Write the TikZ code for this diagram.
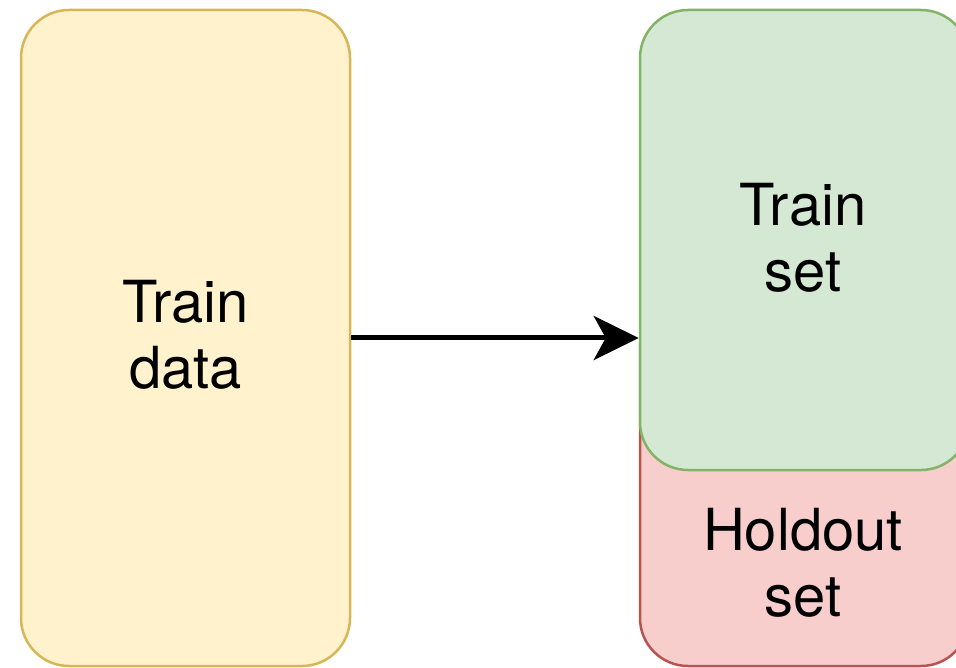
\documentclass[tikz,border=0pt]{standalone}
\usepackage{fontspec}
\setmainfont{TeX Gyre Heros}
\usetikzlibrary{arrows.meta}
\definecolor{yfill}{HTML}{FFF2CC}\definecolor{ydraw}{HTML}{D6B656}
\definecolor{gfill}{HTML}{D5E8D4}\definecolor{gdraw}{HTML}{82B366}
\definecolor{rfill}{HTML}{F8CECC}\definecolor{rdraw}{HTML}{B85450}
\tikzset{
  boxstyle/.style={rectangle, rounded corners=48pt, line width=2.5pt, minimum width=329pt, inner sep=0pt},
  lbl/.style={align=center, font=\fontsize{58}{66}\selectfont, text=black},
  conn/.style={line width=5pt, -{Stealth[length=45pt, width=44pt, inset=12pt]}}
}
\begin{document}
\begin{tikzpicture}[x=1pt,y=1pt]
\useasboundingbox (0,0) rectangle (956,-668);
\node[boxstyle, fill=yfill, draw=ydraw, minimum height=656pt] (yellow) at (185.5,-338) {};
\node[lbl] (traindata) at (185.5,-335) {Train\\data};
\node[boxstyle, fill=rfill, draw=rdraw, minimum height=366pt] (red) at (804.5,-483) {};
\node[boxstyle, fill=gfill, draw=gdraw, minimum height=460pt] (green) at (804.5,-240) {};
\node[lbl] (trainset) at (803,-238) {Train\\set};
\node[lbl] (holdout) at (803,-563) {Holdout\\set};
\draw[conn] (yellow.east) -- (yellow.east -| green.west);
\end{tikzpicture}
\end{document}
